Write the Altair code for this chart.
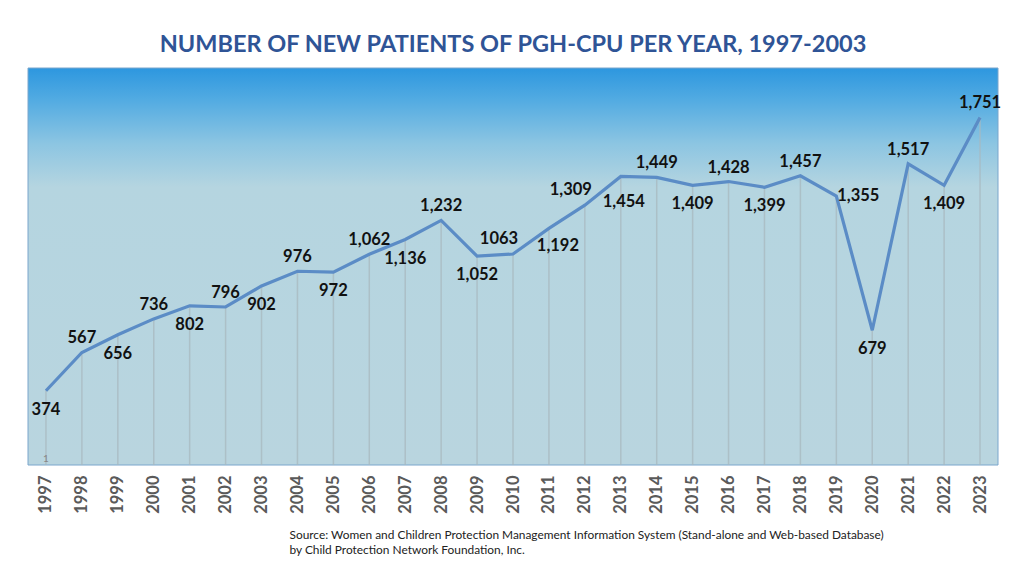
import altair as alt
import pandas as pd

years = [str(y) for y in range(1997, 2024)]
values = [374, 567, 656, 736, 802, 796, 902, 976, 972, 1062, 1136, 1232, 1052, 1063,
          1192, 1309, 1454, 1449, 1409, 1428, 1399, 1457, 1355, 679, 1517, 1409, 1751]
labels = ["374", "567", "656", "736", "802", "796", "902", "976", "972", "1,062", "1,136",
          "1,232", "1,052", "1063", "1,192", "1,309", "1,454", "1,449", "1,409", "1,428",
          "1,399", "1,457", "1,355", "679", "1,517", "1,409", "1,751"]
label_side = ["below", "above", "below", "above", "below", "above", "below", "above", "below",
              "above", "below", "above", "below", "above_left", "below_right", "above_left",
              "below_far", "above", "below", "above", "below", "above", "right", "below", "above",
              "below", "above"]

df = pd.DataFrame({"year": years, "value": values, "label": labels, "side": label_side})

W, H = 970, 397
FONT = "Lato"

xenc = alt.X("year:O", scale=alt.Scale(type="point", padding=0.5),
             axis=alt.Axis(title=["Source: Women and Children Protection Management Information System (Stand-alone and Web-based Database)",
                                  "by Child Protection Network Foundation, Inc."],
                           labelAngle=270, labelFont=FONT, labelFontSize=16.5, labelFontWeight="bold",
                           labelColor="#5a5a5a", labelPadding=10, domain=False, ticks=False,
                           titleFont=FONT, titleFontSize=11.9, titleFontWeight="normal",
                           titleColor="#222222", titleX=261, titleY=64, titleAlign="left",
                           titleBaseline="top", titleLineHeight=15))
yscale = alt.Scale(domain=[0, 2000], nice=False)
yenc = alt.Y("value:Q", scale=yscale, axis=None)

bg = alt.Chart(pd.DataFrame({"a": [0]})).mark_rect(
    fill=alt.Gradient(gradient="linear", x1=0, y1=0, x2=0, y2=1,
                      stops=[alt.GradientStop(offset=0, color="#2d97df"),
                             alt.GradientStop(offset=0.08, color="#52abe2"),
                             alt.GradientStop(offset=0.19, color="#8cc5e2"),
                             alt.GradientStop(offset=0.3, color="#b5d5e0"),
                             alt.GradientStop(offset=1, color="#b9d5df")]),
    stroke="#7aa6cc", strokeWidth=1
).encode(x=alt.value(0), x2=alt.value(W), y=alt.value(0), y2=alt.value(H))

base = alt.Chart(df)

drops = base.mark_rule(color="#a8b8bf", strokeWidth=1.5, opacity=0.75).encode(
    x=xenc, y=yenc, y2=alt.datum(0))

line = base.mark_line(color="#5b8cc6", strokeWidth=3.2).encode(x=xenc, y=yenc)

txt_style = dict(font=FONT, fontSize=16.5, fontWeight="bold", color="#111111")


def lab(side, dx, dy):
    return base.transform_filter(alt.datum.side == side).mark_text(
        dx=dx, dy=dy, **txt_style).encode(x=xenc, y=yenc, text="label:N")


above = lab("above", 0, -14)
above_left = lab("above_left", -14, -15)
below = lab("below", 0, 19)
below_far = lab("below_far", 3, 26)
below_right = lab("below_right", 9, 18)
right = lab("right", 22, 0)

one = base.transform_filter(alt.datum.year == "1997").mark_text(
    font=FONT, fontSize=10, color="#888888", dy=-6).encode(
    x=xenc, y=alt.datum(0), text=alt.value("1"))

chart = alt.layer(bg, drops, line, above, above_left, below, below_far, below_right, right, one).properties(
    width=W, height=H,
    title=alt.Title("NUMBER OF NEW PATIENTS OF PGH-CPU PER YEAR, 1997-2003",
                    font=FONT, fontSize=23.5, fontWeight="bold", color="#2f5496", offset=11),
    padding={"left": 19, "top": 25, "right": 10, "bottom": 5},
    background="white"
).configure_view(stroke=None)

chart.save("out.html", embed_options={"renderer": "svg", "actions": False})
